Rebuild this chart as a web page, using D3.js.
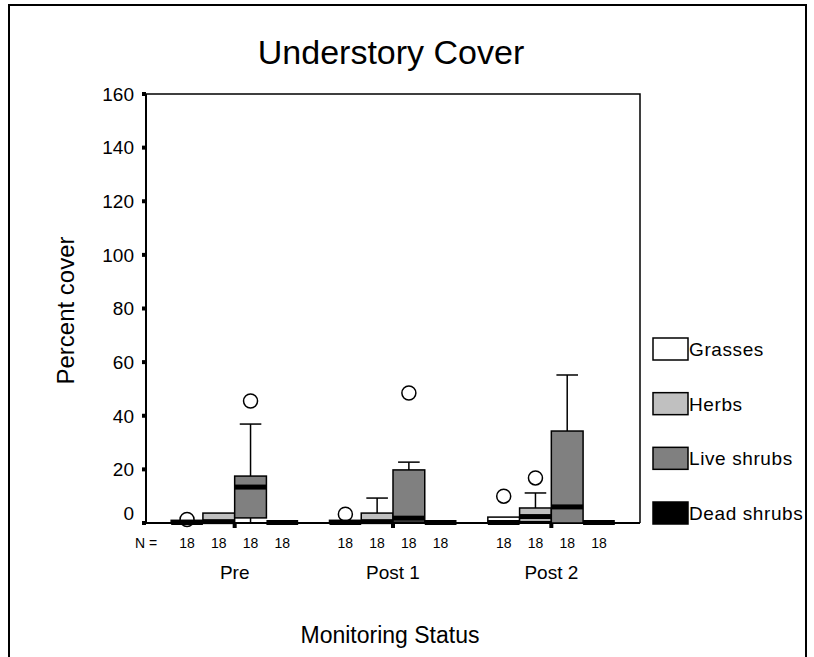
<!DOCTYPE html>
<html>
<head>
<meta charset="utf-8">
<script src="https://cdn.jsdelivr.net/npm/d3@7"></script>
<style>
  body { margin: 0; background: #fff; }
  svg { display: block; font-family: "Liberation Sans", Arial, sans-serif; }
</style>
</head>
<body>
<svg id="chart" width="814" height="657"></svg>
<script>
// Categories
const groups = ["Pre", "Post 1", "Post 2"];
const coverTypes = ["Grasses", "Herbs", "Live shrubs", "Dead shrubs"];
const typeColors = ["#ffffff", "#c0c0c0", "#808080", "#000000"];
const yTicks = [0, 20, 40, 60, 80, 100, 120, 140, 160];

// Box stats per group: [lower whisker, q1, median, q3, upper whisker], one row per cover type
const preStats = [[0, 0, 0, 1, 1], [0, 0, 0.5, 3.7, 3.7], [0, 1.9, 13.4, 17.5, 36.9], [0, 0, 0, 0, 0]];
const post1Stats = [[0, 0, 0, 1, 1], [0, 0, 0.5, 3.7, 9.3], [0, 0.3, 1.8, 19.8, 22.7], [0, 0, 0, 0, 0]];
const post2Stats = [[0, 0, 0, 2.2, 2.2], [0, 0.5, 2.4, 5.6, 11.2], [0, 0, 6, 34.3, 55.2], [0, 0, 0, 0, 0]];

// Outliers per group, one list per cover type
const preOutliers = [[1.3], [], [45.5], []];
const post1Outliers = [[3.3], [], [48.5], []];
const post2Outliers = [[10], [16.8], [], []];

// Sample sizes
const preN = [18, 18, 18, 18];
const post1N = [18, 18, 18, 18];
const post2N = [18, 18, 18, 18];

const statsByGroup = [preStats, post1Stats, post2Stats];
const outliersByGroup = [preOutliers, post1Outliers, post2Outliers];
const nByGroup = [preN, post1N, post2N];

const svg = d3.select("#chart");

// Outer frame (bottom edge runs off the page)
svg.append("rect")
    .attr("x", 9).attr("y", 5)
    .attr("width", 797).attr("height", 700)
    .attr("fill", "none").attr("stroke", "#000").attr("stroke-width", 2);

const plotLeft = 146, plotRight = 640, plotTop = 94, plotBottom = 523;

const y = d3.scaleLinear().domain([0, 160]).range([plotBottom, plotTop]);
const x = d3.scalePoint().domain(groups).range([plotLeft, plotRight]).padding(0.56);
const inner = d3.scaleBand().domain(coverTypes).range([-63.5, 63.5]);
const color = d3.scaleOrdinal().domain(coverTypes).range(typeColors);

// Title
svg.append("text")
    .attr("x", 391).attr("y", 64)
    .attr("text-anchor", "middle")
    .attr("font-size", 34)
    .text("Understory Cover");

// Plot frame: top and right
svg.append("path")
    .attr("d", `M${plotLeft},${plotTop}H${plotRight}V${plotBottom}`)
    .attr("fill", "none").attr("stroke", "#000").attr("stroke-width", 1.5);

// Y axis
svg.append("line")
    .attr("x1", plotLeft).attr("x2", plotLeft)
    .attr("y1", plotTop).attr("y2", plotBottom)
    .attr("stroke", "#000").attr("stroke-width", 2);

svg.append("g").selectAll("rect")
    .data(yTicks)
    .join("rect")
    .attr("x", plotLeft - 4).attr("y", d => y(d) - 2)
    .attr("width", 4).attr("height", 4)
    .attr("fill", "#000");

svg.append("g").selectAll("text")
    .data(yTicks)
    .join("text")
    .attr("x", 134)
    .attr("y", d => y(d) - (d === 0 ? 10 : 0))
    .attr("dy", "0.36em")
    .attr("text-anchor", "end")
    .attr("font-size", 19)
    .text(d => d);

svg.append("text")
    .attr("transform", `translate(74,${(plotTop + plotBottom) / 2 + 2}) rotate(-90)`)
    .attr("text-anchor", "middle")
    .attr("font-size", 24)
    .text("Percent cover");

// X axis
svg.append("line")
    .attr("x1", plotLeft).attr("x2", plotRight)
    .attr("y1", plotBottom).attr("y2", plotBottom)
    .attr("stroke", "#000").attr("stroke-width", 2);

// Box plots
const plot = svg.append("g");

groups.forEach((g, gi) => {
    const cx = x(g);
    const bw = inner.bandwidth();

    coverTypes.forEach((t, ti) => {
        const [lo, q1, med, q3, hi] = statsByGroup[gi][ti];
        const bx = cx + inner(t);
        const mid = bx + bw / 2;

        // outliers
        outliersByGroup[gi][ti].forEach(v => {
            plot.append("circle")
                .attr("cx", mid).attr("cy", y(v)).attr("r", 7)
                .attr("fill", "#fff").attr("stroke", "#000").attr("stroke-width", 1.5);
        });

        // whiskers
        if (hi > q3) {
            plot.append("line")
                .attr("x1", mid).attr("x2", mid).attr("y1", y(q3)).attr("y2", y(hi))
                .attr("stroke", "#000").attr("stroke-width", 1.5);
            plot.append("line")
                .attr("x1", mid - bw * 0.34).attr("x2", mid + bw * 0.34)
                .attr("y1", y(hi)).attr("y2", y(hi))
                .attr("stroke", "#000").attr("stroke-width", 1.5);
        }
        if (q1 > lo) {
            plot.append("line")
                .attr("x1", mid).attr("x2", mid).attr("y1", y(q1)).attr("y2", y(lo))
                .attr("stroke", "#000").attr("stroke-width", 1.5);
        }

        // box
        if (q3 > q1) {
            plot.append("rect")
                .attr("x", bx).attr("y", y(q3))
                .attr("width", bw).attr("height", y(q1) - y(q3))
                .attr("fill", color(t)).attr("stroke", "#000").attr("stroke-width", 1.5);
        }

        // median
        plot.append("rect")
            .attr("x", bx).attr("y", Math.min(y(med) - 2.5, plotBottom - 3))
            .attr("width", bw).attr("height", 5)
            .attr("fill", "#000");

        // N labels
        svg.append("text")
            .attr("x", mid).attr("y", 543)
            .attr("dy", "0.36em")
            .attr("text-anchor", "middle")
            .attr("font-size", 14)
            .text(nByGroup[gi][ti]);
    });

    // category tick mark
    svg.append("rect")
        .attr("x", cx - 2).attr("y", plotBottom + 1)
        .attr("width", 4).attr("height", 4)
        .attr("fill", "#000");

    svg.append("text")
        .attr("x", cx).attr("y", 572)
        .attr("dy", "0.36em")
        .attr("text-anchor", "middle")
        .attr("font-size", 19)
        .text(g);
});

svg.append("text")
    .attr("x", 146).attr("y", 543)
    .attr("dy", "0.36em")
    .attr("text-anchor", "middle")
    .attr("font-size", 14)
    .text("N =");

svg.append("text")
    .attr("x", 390).attr("y", 635)
    .attr("dy", "0.36em")
    .attr("text-anchor", "middle")
    .attr("font-size", 23)
    .text("Monitoring Status");

// Legend
const legendY = d3.scalePoint().domain(coverTypes).range([349, 513]);
const legend = svg.append("g").selectAll("g")
    .data(coverTypes)
    .join("g")
    .attr("transform", d => `translate(653,${legendY(d)})`);

legend.append("rect")
    .attr("x", 0).attr("y", -11)
    .attr("width", 35).attr("height", 22)
    .attr("fill", d => color(d))
    .attr("stroke", "#000").attr("stroke-width", 1.5);

legend.append("text")
    .attr("x", 36).attr("dy", "0.36em")
    .attr("font-size", 19)
    .attr("letter-spacing", 0.6)
    .text(d => d);

// cover the text overflow past the frame
svg.append("rect")
    .attr("x", 807).attr("y", 0).attr("width", 7).attr("height", 657)
    .attr("fill", "#fff");
svg.append("line")
    .attr("x1", 806).attr("x2", 806).attr("y1", 5).attr("y2", 657)
    .attr("stroke", "#000").attr("stroke-width", 2);
</script>
</body>
</html>
